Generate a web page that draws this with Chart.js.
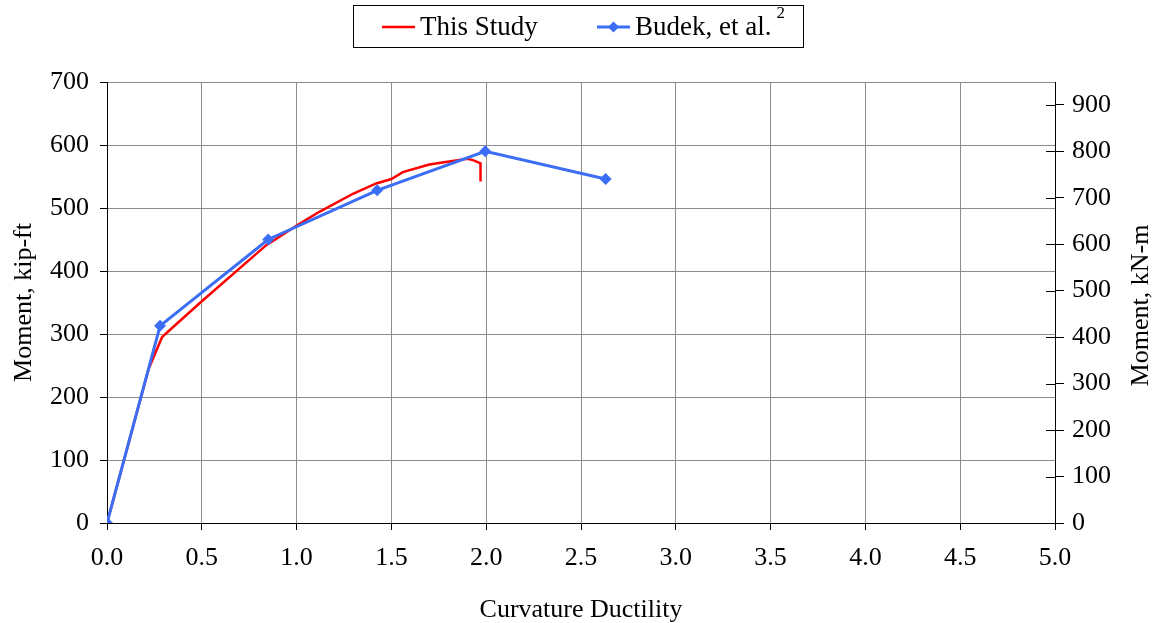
<!DOCTYPE html>
<html>
<head>
<meta charset="utf-8">
<script src="https://cdn.jsdelivr.net/npm/chart.js@4.4.1/dist/chart.umd.min.js"></script>
<style>
  html, body { margin: 0; padding: 0; background: #fff; }
  #wrap { width: 1156px; height: 623px; }
</style>
</head>
<body>
<div id="wrap"><canvas id="c" width="1156" height="623"></canvas></div>
<script>
// ---- data ----
const studyX = [0, 0.22, 0.29, 0.33, 0.50, 0.84, 1.00, 1.12, 1.30, 1.42, 1.50, 1.56, 1.70, 1.90, 1.93, 1.97, 1.97];
const studyY = [0, 245, 295, 306, 352, 441, 472, 494, 523, 539, 546, 557, 569, 578, 576, 571, 542];
const budekX = [0, 0.28, 0.85, 1.425, 1.995, 2.63];
const budekY = [0, 313, 450, 528, 590, 546];
const xTicks = [0, 0.5, 1.0, 1.5, 2.0, 2.5, 3.0, 3.5, 4.0, 4.5, 5.0];
const leftTicks = [0, 100, 200, 300, 400, 500, 600, 700];
const rightTicks = [0, 100, 200, 300, 400, 500, 600, 700, 800, 900];
const KIPFT_TO_KNM = 1.35582;
const seriesLabels = ['This Study', 'Budek, et al.'];
const rightTitle = 'Moment, kN-m';

const FONT = '"Liberation Serif", "Times New Roman", serif';
const RED = '#ff0000';
const BLUE = '#3b6ef5';
const GRID = '#8c8c8c';

const toPts = (xs, ys) => xs.map((x, i) => ({ x: x, y: ys[i] }));

const legendPlugin = {
  id: 'boxLegend',
  afterDraw(chart) {
    const ctx = chart.ctx;
    ctx.save();
    ctx.strokeStyle = '#000';
    ctx.lineWidth = 1;
    ctx.strokeRect(353.5, 5.5, 450, 42);
    ctx.font = '27px ' + FONT;
    ctx.textBaseline = 'middle';
    ctx.fillStyle = '#000';
    const y = 27;
    // item 1
    ctx.strokeStyle = RED; ctx.lineWidth = 2.5;
    ctx.beginPath(); ctx.moveTo(382, y); ctx.lineTo(415, y); ctx.stroke();
    ctx.fillText(chart.data.datasets[0].label, 420, y + 1);
    // item 2
    ctx.strokeStyle = BLUE; ctx.lineWidth = 3;
    ctx.beginPath(); ctx.moveTo(597, y); ctx.lineTo(630, y); ctx.stroke();
    ctx.fillStyle = BLUE;
    ctx.beginPath();
    ctx.moveTo(613.5, y - 5.5); ctx.lineTo(619, y); ctx.lineTo(613.5, y + 5.5); ctx.lineTo(608, y);
    ctx.closePath(); ctx.fill();
    ctx.fillStyle = '#000';
    const t2 = chart.data.datasets[1].label;
    ctx.fillText(t2, 635, y + 1);
    const w = ctx.measureText(t2).width;
    ctx.font = '17px ' + FONT;
    ctx.fillText('2', 635 + w + 5, 14);
    ctx.restore();
  }
};

const innerTickPlugin = {
  id: 'innerTicks',
  afterDatasetsDraw(chart) {
    const s = chart.scales.y2;
    const ctx = chart.ctx;
    ctx.save();
    ctx.strokeStyle = '#000';
    ctx.lineWidth = 1;
    s.ticks.forEach(t => {
      const py = Math.round(s.getPixelForValue(t.value)) + 0.5;
      ctx.beginPath(); ctx.moveTo(s.left - 9, py); ctx.lineTo(s.left, py); ctx.stroke();
    });
    // right axis title, reading bottom-to-top
    const ca = chart.chartArea;
    ctx.translate(1141, (ca.top + ca.bottom) / 2 + 3);
    ctx.rotate(-Math.PI / 2);
    ctx.font = '26px ' + FONT;
    ctx.fillStyle = '#000';
    ctx.textAlign = 'center';
    ctx.textBaseline = 'middle';
    ctx.fillText(rightTitle, 0, 0);
    ctx.restore();
  }
};

new Chart(document.getElementById('c'), {
  type: 'scatter',
  data: {
    datasets: [
      {
        label: seriesLabels[0],
        data: toPts(studyX, studyY),
        showLine: true,
        borderColor: RED,
        backgroundColor: RED,
        borderWidth: 2.5,
        pointRadius: 0,
        pointHoverRadius: 0,
        tension: 0,
        order: 2,
        yAxisID: 'y'
      },
      {
        label: seriesLabels[1],
        data: toPts(budekX, budekY),
        showLine: true,
        borderColor: BLUE,
        backgroundColor: BLUE,
        borderWidth: 3,
        pointStyle: 'rectRot',
        pointRadius: 6,
        pointBorderWidth: 0,
        pointBackgroundColor: BLUE,
        pointBorderColor: BLUE,
        tension: 0,
        order: 1,
        yAxisID: 'y'
      }
    ]
  },
  options: {
    responsive: false,
    animation: false,
    devicePixelRatio: 1,
    layout: { padding: { top: 82, left: 0, right: 0, bottom: 0 } },
    plugins: {
      legend: { display: false },
      tooltip: { enabled: false }
    },
    scales: {
      x: {
        type: 'linear',
        position: 'bottom',
        min: 0, max: 5,
        afterBuildTicks: s => { s.ticks = xTicks.map(v => ({ value: v })); },
        afterFit: s => { s.height = 100; },
        ticks: {
          callback: v => Number(v).toFixed(1),
          font: { family: FONT, size: 26 },
          color: '#000',
          padding: 13,
          maxRotation: 0,
          autoSkip: false
        },
        grid: { color: GRID, tickColor: '#000', tickLength: 7, lineWidth: 1 },
        border: { color: '#000', width: 1 },
        title: {
          display: true,
          text: 'Curvature Ductility',
          font: { family: FONT, size: 26, lineHeight: 1.0 },
          color: '#000',
          padding: { top: 0, bottom: 0 }
        }
      },
      y: {
        type: 'linear',
        position: 'left',
        min: 0, max: 700,
        afterBuildTicks: s => { s.ticks = leftTicks.map(v => ({ value: v })); },
        afterFit: s => { s.width = 107; },
        ticks: {
          font: { family: FONT, size: 26 },
          color: '#000',
          padding: 11
        },
        grid: { color: GRID, tickColor: '#000', tickLength: 7, lineWidth: 1 },
        border: { color: '#000', width: 1 },
        title: {
          display: true,
          text: 'Moment, kip-ft',
          font: { family: FONT, size: 26 },
          color: '#000',
          padding: { top: 9, bottom: 0 }
        }
      },
      y2: {
        type: 'linear',
        position: 'right',
        min: 0, max: 700 * KIPFT_TO_KNM,
        afterBuildTicks: s => { s.ticks = rightTicks.map(v => ({ value: v })); },
        afterFit: s => { s.width = 101; },
        ticks: {
          font: { family: FONT, size: 26 },
          color: '#000',
          padding: 8
        },
        grid: { drawOnChartArea: false, color: '#000', tickColor: '#000', tickLength: 9, lineWidth: 1 },
        border: { color: '#000', width: 1 },
        title: { display: false }
      }
    }
  },
  plugins: [legendPlugin, innerTickPlugin]
});
</script>
</body>
</html>
